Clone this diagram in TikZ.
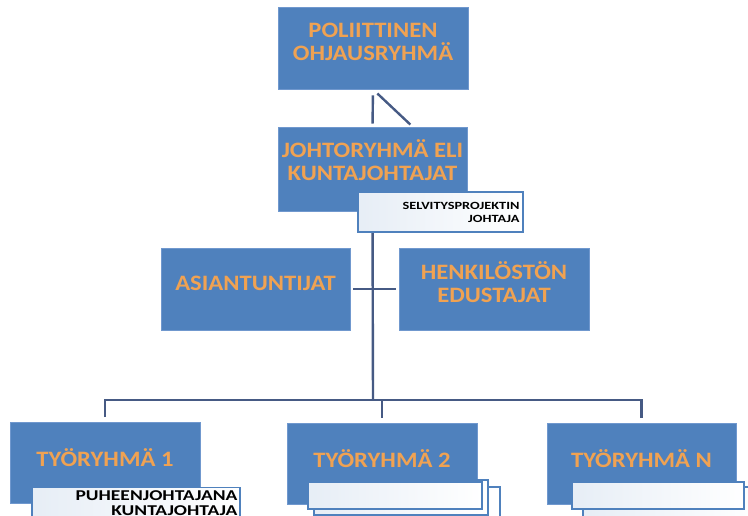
\documentclass[tikz,border=0pt]{standalone}
\usepackage{fontspec}
\newfontfamily\orgfont{Carlito}[FakeStretch=1.12]
\newfontfamily\notefont{Carlito}[FakeStretch=1.3]
\usetikzlibrary{backgrounds}
\definecolor{boxblue}{RGB}{79,129,189}
\definecolor{boxline}{RGB}{112,152,206}
\definecolor{textorange}{RGB}{240,162,82}
\definecolor{linkblue}{RGB}{70,90,132}
\tikzset{
  orgbox/.style={rectangle, fill=boxblue, draw=boxline, line width=0.8pt, inner sep=0pt,
    text=textorange, align=center, text depth=10pt, font=\orgfont\bfseries\fontsize{22}{23}\selectfont},
  notebox/.style={rectangle, draw=boxblue, line width=1.3pt, left color=boxblue!14, right color=white,
    inner sep=0pt, text=black, align=right, font=\notefont\bfseries\fontsize{11}{13}\selectfont},
  link/.style={draw=linkblue, line width=2.4pt}
}

\begin{document}
\begin{tikzpicture}[x=1pt,y=-1pt]
  \useasboundingbox (0,0) rectangle (748,515);
  \clip (0,0) rectangle (748,515);

  % main groups
  \node[orgbox, minimum width=190pt, minimum height=82pt, text depth=13pt] (pol) at (373,48) {POLIITTINEN\\OHJAUSRYHMÄ};
  \node[orgbox, minimum width=189pt, minimum height=84pt, text depth=17pt] (joht) at (372.5,169) {JOHTORYHMÄ ELI\\KUNTAJOHTAJAT};
  \node[notebox, minimum width=165pt, minimum height=40pt, text width=158pt] (selv) at (440.5,212) {SELVITYSPROJEKTIN\\JOHTAJA};

  \node[orgbox, minimum width=189pt, minimum height=82pt, text depth=11pt] (asi) at (255.5,289) {ASIANTUNTIJAT};
  \node[orgbox, minimum width=190pt, minimum height=82pt, text depth=13pt] (henk) at (494,289) {HENKILÖSTÖN\\EDUSTAJAT};

  % working groups
  \node[orgbox, minimum width=190pt, minimum height=81pt] (ty1) at (105,463) {TYÖRYHMÄ 1};
  \node[orgbox, minimum width=190pt, minimum height=81pt] (ty2) at (382,463.5) {TYÖRYHMÄ 2};
  \node[orgbox, minimum width=189pt, minimum height=81pt] (tyN) at (641.5,463.5) {TYÖRYHMÄ N};

  \node[notebox, anchor=north, minimum width=208pt, text width=203pt, inner ysep=3.5pt, text depth=16pt,
    font=\notefont\bfseries\fontsize{15}{15}\selectfont] (pj) at (136,487) {PUHEENJOHTAJANA\\KUNTAJOHTAJA};
  \node[notebox, minimum width=177pt, minimum height=38pt] (ty2c) at (411.5,506) {};
  \node[notebox, minimum width=174pt, minimum height=35pt] (ty2b) at (401,497.5) {};
  \node[notebox, minimum width=174pt, minimum height=27pt] (ty2a) at (395,495.5) {};
  \node[notebox, minimum width=177pt, minimum height=38pt] (tyNb) at (671.5,506) {};
  \node[notebox, minimum width=172pt, minimum height=27pt] (tyNa) at (658,495.5) {};

  % connectors
  \begin{scope}[on background layer]
    \fill[white] (0,0) rectangle (748,515);
    \coordinate (bus) at (373,400);
    \draw[link, shorten <=6pt, shorten >=3pt] (pol.south) -- (joht.north);
    \draw[link, shorten <=6pt, shorten >=3pt] (pol.south) -- ([xshift=40pt]joht.north);
    \draw[link] (joht.south) -- (bus);
    \draw[link, shorten <=3pt, shorten >=3pt] (asi.east) -- (henk.west);
    \draw[link, shorten <=5pt, shorten >=5pt] (ty1.north) |- (bus) -| (tyN.north);
    \draw[link, shorten <=5pt] (ty2.north) -- (ty2.north |- bus);
  \end{scope}
\end{tikzpicture}
\end{document}
